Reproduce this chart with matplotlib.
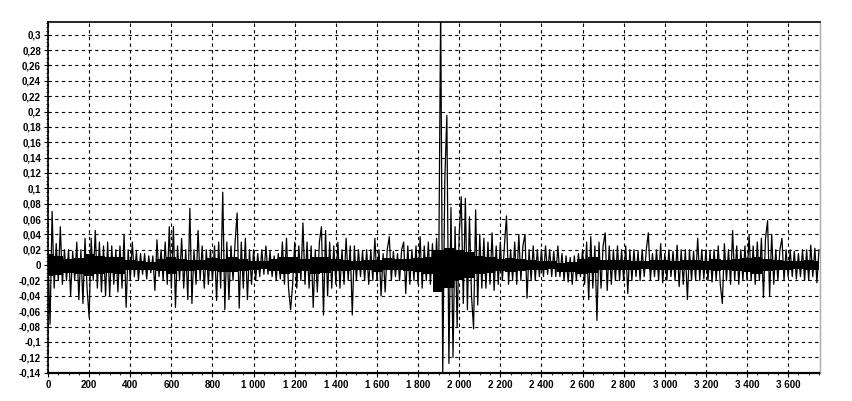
import numpy as np
import matplotlib
matplotlib.use("Agg")
import matplotlib.pyplot as plt
from matplotlib.ticker import FuncFormatter, MultipleLocator

# sample index, one value every 10 steps
step = 10
signal = [
    # 0 - 990
    0.01, -0.077, 0.07, -0.03, 0.028, -0.02, 0.05, -0.025, 0.02, -0.02,
    0.02, -0.04, 0.018, -0.02, 0.03, -0.045, 0.02, -0.05, 0.035, -0.03,
    -0.068, 0.035, -0.02, 0.045, -0.03, 0.03, -0.035, 0.025, -0.04, 0.03,
    -0.04, 0.025, -0.025, 0.02, -0.035, 0.025, -0.03, 0.04, -0.055, 0.02,
    -0.02, 0.03, -0.015, 0.018, -0.02, 0.015, -0.012, 0.015, -0.018, 0.012,
    -0.01, 0.012, -0.033, 0.033, -0.015, 0.02, -0.02, 0.03, -0.025, 0.05,
    -0.03, 0.05, -0.055, 0.025, -0.02, 0.035, -0.03, 0.02, -0.045, 0.074,
    -0.05, 0.02, -0.025, 0.045, -0.02, 0.025, -0.03, 0.02, -0.025, 0.02,
    -0.02, 0.025, -0.046, 0.03, -0.03, 0.095, -0.058, 0.03, -0.045, 0.025,
    -0.02, 0.03, 0.068, -0.056, 0.03, -0.03, 0.035, -0.045, 0.02, -0.025,
    # 1000 - 1990
    0.02, -0.02, 0.015, -0.015, 0.02, -0.012, 0.025, -0.012, 0.018, -0.015,
    0.012, -0.02, 0.015, -0.018, 0.03, -0.025, 0.035, -0.03, -0.058, -0.025,
    0.03, -0.03, 0.025, -0.02, 0.055, -0.025, 0.03, -0.03, 0.025, -0.055,
    0.02, -0.035, 0.03, 0.05, -0.065, 0.045, -0.04, 0.03, -0.03, 0.025,
    -0.025, 0.03, -0.03, 0.02, -0.025, 0.035, -0.02, 0.025, -0.065, 0.025,
    -0.02, 0.02, -0.015, 0.018, -0.02, 0.02, -0.025, 0.02, -0.02, 0.035,
    -0.02, 0.02, -0.04, 0.015, -0.035, 0.02, 0.037, -0.02, 0.018, -0.015,
    0.015, -0.02, 0.02, 0.03, -0.037, 0.025, -0.025, 0.02, -0.02, 0.025,
    -0.025, 0.037, -0.03, 0.025, -0.02, 0.03, -0.025, 0.028, -0.03, 0.035,
    -0.03, 0.34, -0.142, 0.11, 0.195, -0.128, 0.075, -0.12, 0.05, -0.08,
    # 2000 - 2990
    0.04, 0.089, -0.05, 0.087, -0.058, 0.063, -0.04, -0.083, 0.072, -0.052,
    0.04, -0.03, 0.035, -0.03, 0.03, -0.025, 0.042, -0.033, 0.025, -0.025,
    0.03, -0.02, 0.025, 0.064, -0.025, 0.02, -0.02, 0.03, -0.025, 0.04,
    -0.02, 0.025, 0.04, -0.043, 0.02, -0.02, 0.025, -0.02, 0.02, -0.015,
    0.02, -0.015, 0.025, -0.012, 0.02, -0.015, 0.018, -0.015, 0.025, -0.015,
    0.015, -0.02, 0.012, -0.022, 0.01, -0.025, 0.012, -0.02, 0.015, -0.015,
    0.02, -0.025, 0.03, -0.045, 0.037, -0.03, 0.025, -0.072, 0.03, -0.03,
    0.025, 0.042, -0.033, 0.025, -0.025, 0.02, -0.02, 0.025, -0.02, 0.02,
    -0.02, 0.025, -0.037, 0.02, -0.02, 0.02, -0.015, 0.018, -0.02, 0.02,
    -0.015, 0.02, 0.042, -0.02, 0.015, -0.015, 0.02, -0.02, 0.028, -0.023,
    # 3000 - 3750
    0.015, -0.02, 0.02, -0.015, 0.018, -0.02, 0.026, -0.028, 0.02, -0.025,
    0.02, -0.045, 0.02, -0.02, 0.018, -0.02, 0.035, -0.02, 0.02, -0.018,
    0.02, -0.02, 0.018, -0.022, 0.02, -0.02, 0.025, -0.025, -0.05, 0.028,
    -0.02, 0.02, -0.025, 0.045, -0.02, 0.025, -0.025, 0.02, -0.02, 0.025,
    -0.02, 0.039, -0.02, 0.025, -0.025, 0.03, -0.02, 0.035, -0.042, 0.035,
    0.058, -0.04, 0.04, -0.025, 0.02, -0.02, 0.02, 0.035, -0.02, 0.02,
    -0.015, 0.02, -0.015, 0.018, -0.018, 0.015, -0.015, 0.02, -0.02, 0.02,
    -0.02, 0.026, -0.015, 0.022, -0.023, 0.02,
]
samples = np.arange(len(signal)) * step

# dense black core of the noise, one pair every 50 steps
core_step = 50
core_upper = [
    0.014, 0.012, 0.008, 0.009, 0.014, 0.012, 0.01, 0.011, 0.007, 0.006,
    0.004, 0.008, 0.011, 0.008, 0.007, 0.007, 0.009, 0.008, 0.01, 0.008,
    0.006, 0.005, 0.008, 0.011, 0.01, 0.008, 0.011, 0.01, 0.008, 0.007,
    0.006, 0.007, 0.007, 0.009, 0.008, 0.008, 0.009, 0.011, 0.02, 0.022,
    0.02, 0.017, 0.012, 0.011, 0.008, 0.009, 0.008, 0.007, 0.006, 0.005,
    0.003, 0.004, 0.008, 0.011, 0.007, 0.007, 0.007, 0.006, 0.005, 0.007,
    0.007, 0.006, 0.007, 0.007, 0.006, 0.008, 0.007, 0.008, 0.009, 0.011,
    0.008, 0.007, 0.005, 0.006, 0.007, 0.006,
]
core_lower = [
    -0.014, -0.013, -0.01, -0.011, -0.014, -0.011, -0.01, -0.011, -0.007, -0.006,
    -0.006, -0.008, -0.011, -0.008, -0.008, -0.007, -0.008, -0.009, -0.009, -0.008,
    -0.006, -0.005, -0.008, -0.011, -0.01, -0.008, -0.011, -0.01, -0.008, -0.008,
    -0.006, -0.007, -0.009, -0.007, -0.007, -0.008, -0.009, -0.011, -0.035, -0.03,
    -0.02, -0.017, -0.011, -0.01, -0.008, -0.009, -0.008, -0.007, -0.006, -0.005,
    -0.009, -0.009, -0.011, -0.01, -0.007, -0.007, -0.007, -0.006, -0.005, -0.007,
    -0.007, -0.007, -0.007, -0.006, -0.007, -0.008, -0.007, -0.008, -0.009, -0.011,
    -0.008, -0.007, -0.006, -0.005, -0.007, -0.006,
]
core_x = np.arange(len(core_upper)) * core_step

x_ticks = list(range(0, 3601, 200))
y_ticks = [round(v, 2) for v in np.arange(-0.14, 0.301, 0.02)]


def fmt_y(v, pos):
    s = f"{v:.2f}".rstrip("0").rstrip(".")
    if s in ("-0", "0.0"):
        s = "0"
    return s.replace(".", ",")


def fmt_x(v, pos):
    return f"{int(v):,}".replace(",", " ")


fig = plt.figure(figsize=(8.52, 4.01), dpi=100)
ax = fig.add_axes([48 / 852, 1 - 373 / 401, 772 / 852, 351 / 401])

ax.fill_between(core_x, core_lower, core_upper, step="mid", color="black", linewidth=0, zorder=2)
ax.plot(samples, signal, color="black", linewidth=0.9, zorder=3)

ax.set_xlim(0, 3755)
ax.set_ylim(-0.1405, 0.3166)
ax.set_xticks(x_ticks)
ax.set_yticks(y_ticks)
ax.xaxis.set_minor_locator(MultipleLocator(50))
ax.yaxis.set_minor_locator(MultipleLocator(0.005))
ax.xaxis.set_major_formatter(FuncFormatter(fmt_x))
ax.yaxis.set_major_formatter(FuncFormatter(fmt_y))

ax.grid(True, which="major", color="black", linestyle=(0, (3, 3)), linewidth=0.8, zorder=1)

for lab in ax.get_xticklabels() + ax.get_yticklabels():
    lab.set_fontfamily("Liberation Sans")
    lab.set_fontweight("bold")
    lab.set_fontsize(7)

ax.tick_params(which="major", length=3, width=0.8, color="black", pad=2)
ax.tick_params(which="minor", length=1.5, width=0.6, color="black")

ax.spines["top"].set_linewidth(1.2)
ax.spines["left"].set_linewidth(1.2)
ax.spines["right"].set_color("#aaaaaa")
ax.spines["right"].set_linewidth(1)
ax.spines["bottom"].set_linestyle((0, (2, 1)))
ax.spines["bottom"].set_linewidth(1.6)

fig.savefig("out.png", dpi=100)
